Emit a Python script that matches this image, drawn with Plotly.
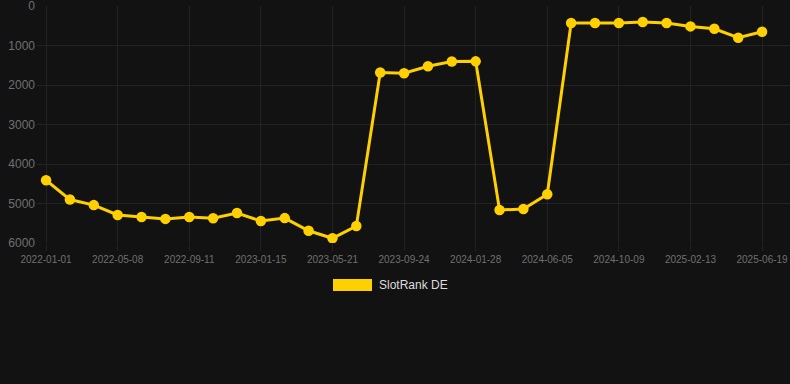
import plotly.graph_objects as go

dates = [
    "2022-01-01", "2022-02-12", "2022-03-26", "2022-05-08", "2022-06-19", "2022-07-31",
    "2022-09-11", "2022-10-23", "2022-12-04", "2023-01-15", "2023-02-26", "2023-04-09",
    "2023-05-21", "2023-07-02", "2023-08-13", "2023-09-24", "2023-11-05", "2023-12-17",
    "2024-01-28", "2024-03-10", "2024-04-22", "2024-06-05", "2024-07-17", "2024-08-28",
    "2024-10-09", "2024-11-20", "2025-01-01", "2025-02-13", "2025-03-27", "2025-05-08",
    "2025-06-19",
]
rank_de = [
    4410, 4900, 5040, 5290, 5340, 5390, 5340, 5375, 5240, 5445, 5370, 5690,
    5880, 5570, 1680, 1700, 1525, 1405, 1400, 5165, 5140, 4765, 430, 430,
    430, 405, 430, 515, 575, 800, 650,
]
tick_labels = [
    "2022-01-01", "2022-05-08", "2022-09-11", "2023-01-15", "2023-05-21", "2023-09-24",
    "2024-01-28", "2024-06-05", "2024-10-09", "2025-02-13", "2025-06-19",
]
y_ticks = [0, 1000, 2000, 3000, 4000, 5000, 6000]
series_name = "SlotRank DE"

BG = "#121212"
GRID = "#222222"
TICK = "#707070"
GOLD = "#FFD000"
FONT = "Liberation Sans, Arial, sans-serif"

fig = go.Figure()
fig.add_trace(go.Scatter(
    x=dates, y=rank_de, mode="lines+markers", name=series_name,
    line=dict(color=GOLD, width=3),
    marker=dict(color=GOLD, size=10.5),
    showlegend=False,
))

W, H = 790, 384
L, R, T, B = 37, 0, 6, 141
pw, ph = W - L - R, H - T - B

def px(x):
    return (x - L) / pw

def py(y):
    return (H - B - y) / ph

fig.update_layout(
    width=W, height=H,
    margin=dict(l=L, r=R, t=T, b=B),
    paper_bgcolor=BG, plot_bgcolor=BG,
    font=dict(family=FONT, color=TICK),
    xaxis=dict(
        type="category",
        range=[-0.38, 31.17],
        tickvals=tick_labels, ticktext=tick_labels,
        showgrid=True, gridcolor=GRID, gridwidth=1,
        ticks="outside", ticklen=7, tickcolor=GRID,
        tickfont=dict(size=10, color=TICK),
        zeroline=False, showline=False,
    ),
    yaxis=dict(
        range=[6000, -2],
        tickvals=y_ticks,
        showgrid=True, gridcolor=GRID, gridwidth=1,
        tickfont=dict(size=12, color=TICK),
        zeroline=False, showline=False,
        ticklabelstandoff=1,
        ticklabeloverflow="allow",
    ),
    shapes=[dict(
        type="rect", xref="paper", yref="paper",
        x0=px(333), x1=px(372), y0=py(291), y1=py(279),
        fillcolor=GOLD, line=dict(width=0),
    )],
    annotations=[dict(
        xref="paper", yref="paper", x=px(377), y=py(285),
        xanchor="left", yanchor="middle", showarrow=False,
        text=series_name, font=dict(size=12, color="#dddddd", family=FONT),
    )],
)

fig.write_html(
    "out.html",
    config={"displayModeBar": False},
    post_script="document.body.style.margin='0';document.body.style.background='#121212';",
)
